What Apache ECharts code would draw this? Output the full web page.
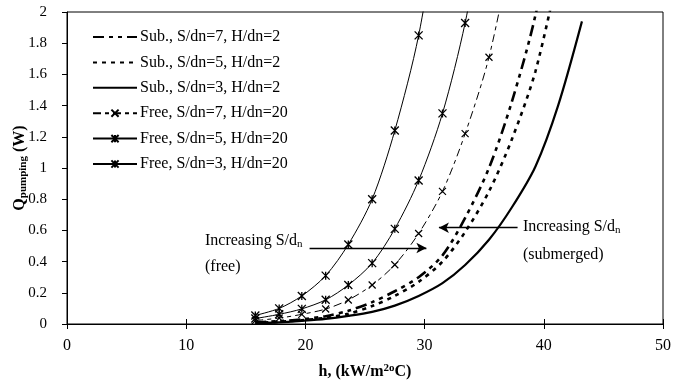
<!DOCTYPE html>
<html>
<head>
<meta charset="utf-8">
<script src="https://cdn.jsdelivr.net/npm/echarts@6/dist/echarts.min.js"></script>
<style>html,body{margin:0;padding:0;background:#fff;}#c{width:673px;height:387px;}</style>
</head>
<body>
<div id="c"></div>
<script>
// h values (kW/m2 oC)
const hVals = [15.8, 17.8, 19.7, 21.7, 23.6, 25.6, 27.5, 29.5, 31.5, 33.4, 35.4, 37.3, 39.3, 41.2, 43.2];
// Pumping power (W)
const sub7  = [0.010, 0.018, 0.030, 0.050, 0.085, 0.140, 0.210, 0.300, 0.440, 0.680, 1.000, 1.420, 1.980, 2.750];
const sub5  = [0.008, 0.014, 0.024, 0.040, 0.065, 0.115, 0.180, 0.270, 0.400, 0.590, 0.850, 1.180, 1.620, 2.250];
const sub3  = [0.005, 0.010, 0.020, 0.033, 0.052, 0.078, 0.118, 0.180, 0.262, 0.378, 0.540, 0.745, 1.010, 1.400, 1.940];
const free7 = [0.022, 0.038, 0.062, 0.096, 0.154, 0.250, 0.380, 0.580, 0.850, 1.220, 1.710, 2.400];
const free5 = [0.035, 0.062, 0.097, 0.155, 0.250, 0.390, 0.610, 0.920, 1.350, 1.930, 2.760];
const free3 = [0.055, 0.100, 0.180, 0.310, 0.510, 0.800, 1.240, 1.850, 2.760];
const seriesNames = ['Sub., S/dn=7, H/dn=2', 'Sub., S/dn=5, H/dn=2', 'Sub., S/dn=3, H/dn=2',
                     'Free, S/dn=7, H/dn=20', 'Free, S/dn=5, H/dn=20', 'Free, S/dn=3, H/dn=20'];
const xTicks = [0, 10, 20, 30, 40, 50];
const yTicks = [0, 0.2, 0.4, 0.6, 0.8, 1, 1.2, 1.4, 1.6, 1.8, 2];

function pairs(vals) { return vals.map((v, i) => [hVals[i], v]); }

const FONT = 'Liberation Serif';
const CROSS = 'path://M0 0L10 10M10 0L0 10';
const STAR = 'path://M0 0L10 10M10 0L0 10M5 0L5 10';

const chart = echarts.init(document.getElementById('c'), null, {renderer: 'canvas'});

function mk(name, vals, opt) {
  return Object.assign({
    name: name, type: 'line', data: pairs(vals), smooth: 0.3,
    clip: true, animation: false, z: 3
  }, opt);
}

const arrowML = (from, to) => ({
  silent: true, symbol: ['none', 'arrow'], symbolSize: [8, 10], label: {show: false},
  lineStyle: {color: '#000', width: 1.3, type: 'solid'},
  emphasis: {disabled: true},
  data: [[{coord: from}, {coord: to}]]
});

const option = {
  backgroundColor: '#fff',
  animation: false,
  textStyle: {fontFamily: FONT, color: '#000'},
  grid: {left: 67, right: 10, top: 12, bottom: 63, show: true, borderColor: '#000', borderWidth: 1,
         containLabel: false, outerBoundsMode: 'none'},
  legend: {
    orient: 'vertical', left: 92, top: 28, padding: 0, itemWidth: 44, itemHeight: 9, itemGap: 7.4,
    textStyle: {fontFamily: FONT, fontSize: 16, color: '#000', lineHeight: 18, padding: [0, 0, 0, -2]},
    data: seriesNames.map((n, i) => i < 3 ? {name: n, itemStyle: {opacity: 0}} : {name: n})
  },
  xAxis: [{
    type: 'value', min: xTicks[0], max: xTicks[xTicks.length - 1], interval: 10,
    splitLine: {show: false},
    axisLine: {lineStyle: {color: '#000', width: 1}},
    axisTick: {show: true, length: 5, lineStyle: {color: '#000'}},
    axisLabel: {fontFamily: FONT, fontSize: 16, color: '#000', margin: 14},
    name: '{b|h, (kW/m}{sup|2o}{b|C)}', nameLocation: 'middle', nameGap: 39, nameMoveOverlap: false,
    nameTextStyle: {rich: {
      b: {fontFamily: FONT, fontSize: 16, fontWeight: 'bold', color: '#000', lineHeight: 18},
      sup: {fontFamily: FONT, fontSize: 11, fontWeight: 'bold', color: '#000', verticalAlign: 'top', lineHeight: 18}
    }}
  }, {
    type: 'value', min: 0, max: 50, interval: 10, position: 'bottom', offset: 0,
    splitLine: {show: false}, axisLine: {show: false}, axisLabel: {show: false},
    axisTick: {show: true, inside: true, length: 5, lineStyle: {color: '#000'}}
  }],
  yAxis: {
    type: 'value', min: yTicks[0], max: yTicks[yTicks.length - 1], interval: 0.2,
    splitLine: {show: false},
    axisLine: {show: true, lineStyle: {color: '#000', width: 1}},
    axisTick: {show: true, length: 5, lineStyle: {color: '#000'}},
    axisLabel: {fontFamily: FONT, fontSize: 15, color: '#000', margin: 20},
    name: '{q|Q}{sub|pumping}{q| (W)}', nameLocation: 'middle', nameGap: 38, nameRotate: 90, nameMoveOverlap: false,
    nameTextStyle: {rich: {
      q: {fontFamily: FONT, fontSize: 16, fontWeight: 'bold', color: '#000', lineHeight: 18},
      sub: {fontFamily: FONT, fontSize: 11, fontWeight: 'bold', color: '#000', verticalAlign: 'bottom', lineHeight: 18}
    }}
  },
  series: [
    mk(seriesNames[0], sub7, {symbol: 'none', lineStyle: {color: '#000', width: 2.6, type: [11, 5, 4, 5, 4, 5]}, itemStyle: {color: '#000'},
      markLine: arrowML([37.8, 0.617], [31.2, 0.617])}),
    mk(seriesNames[1], sub5, {symbol: 'none', lineStyle: {color: '#000', width: 2.6, type: [4, 5]}, itemStyle: {color: '#000'}}),
    mk(seriesNames[2], sub3, {symbol: 'none', lineStyle: {color: '#000', width: 2.2, type: 'solid'}, itemStyle: {color: '#000'},
      markLine: arrowML([20.35, 0.487], [30.15, 0.487])}),
    mk(seriesNames[3], free7, {symbol: CROSS, symbolSize: 7, showAllSymbol: true,
      lineStyle: {color: '#000', width: 1, type: [8, 4, 4, 4]}, itemStyle: {color: '#000', borderColor: '#000', borderWidth: 1.2}}),
    mk(seriesNames[4], free5, {symbol: STAR, symbolSize: 8, showAllSymbol: true,
      lineStyle: {color: '#000', width: 1, type: 'solid'}, itemStyle: {color: '#000', borderColor: '#000', borderWidth: 1.3}}),
    mk(seriesNames[5], free3, {symbol: STAR, symbolSize: 8, showAllSymbol: true,
      lineStyle: {color: '#000', width: 1, type: 'solid'}, itemStyle: {color: '#000', borderColor: '#000', borderWidth: 1.3}})
  ],
  graphic: [
    {type: 'text', left: 205, top: 233, style: {text: '{a|Increasing S/d}{s|n}', rich: {
      a: {fontFamily: FONT, fontSize: 16, fill: '#000', lineHeight: 18},
      s: {fontFamily: FONT, fontSize: 11, fill: '#000', verticalAlign: 'bottom', lineHeight: 18}}}},
    {type: 'text', left: 205, top: 259, style: {text: '(free)', font: '16px "Liberation Serif"', fill: '#000'}},
    {type: 'text', left: 523, top: 219, style: {text: '{a|Increasing S/d}{s|n}', rich: {
      a: {fontFamily: FONT, fontSize: 16, fill: '#000', lineHeight: 18},
      s: {fontFamily: FONT, fontSize: 11, fill: '#000', verticalAlign: 'bottom', lineHeight: 18}}}},
    {type: 'text', left: 523, top: 247, style: {text: '(submerged)', font: '16px "Liberation Serif"', fill: '#000'}}
  ]
};
chart.setOption(option);
</script>
</body>
</html>
